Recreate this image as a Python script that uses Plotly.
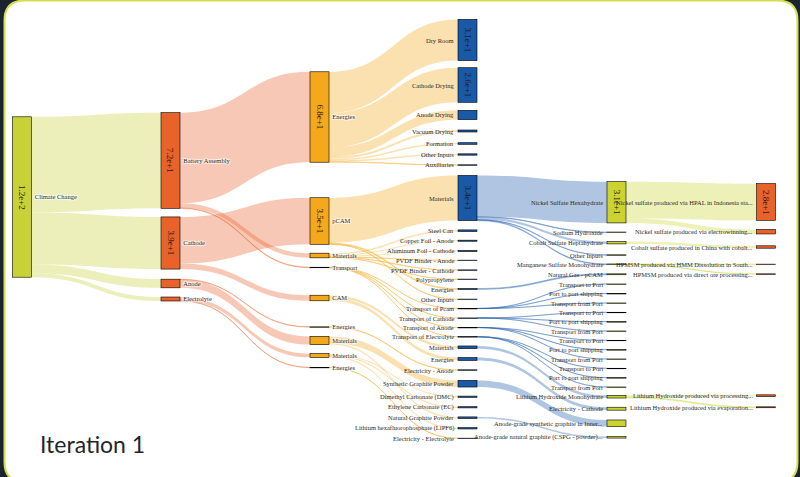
import plotly.graph_objects as go

# ---------------- data ----------------
node_ids = [
    "cc", "ba", "cat", "an", "el",
    "ba_en", "pcam", "ba_mat", "ba_tr", "cam", "an_en", "an_mat", "el_mat", "el_en",
    "dry", "cdry", "adry", "vac", "form", "oth1", "aux",
    "pcam_mat", "steel", "cu", "al", "pvdfa", "pvdfc", "pp", "pcam_en", "pcam_oth",
    "tr_pcam", "tr_cat", "tr_an", "tr_el",
    "cam_mat", "cam_en", "el_an", "sgp", "dmc", "ec", "ngp", "lipf6", "el_el",
    "nsh", "naoh", "csh", "oth4", "mn", "ng",
    "p_to", "p_sh", "p_from", "c_to", "c_sh", "c_from",
    "a_to", "a_sh", "a_from", "e_to", "e_sh", "e_from",
    "lioh", "el_cat", "agsg", "agng",
    "hpal", "ew", "co", "hmm", "dop", "liproc", "lievap",
]
node_labels = [
    "Climate Change", "Battery Assembly", "Cathode", "Anode", "Electrolyte",
    "Energies", "pCAM", "Materials", "Transport", "CAM", "Energies", "Materials", "Materials", "Energies",
    "Dry Room", "Cathode Drying", "Anode Drying", "Vacuum Drying", "Formation", "Other Inputs", "Auxiliaries",
    "Materials", "Steel Can", "Copper Foil - Anode", "Aluminum Foil - Cathode", "PVDF Binder - Anode",
    "PVDF Binder - Cathode", "Polypropylene", "Energies", "Other Inputs",
    "Transport of Pcam", "Transport of Cathode", "Transport of Anode", "Transport of Electrolyte",
    "Materials", "Energies", "Electricity - Anode", "Synthetic Graphite Powder",
    "Dimethyl Carbonate (DMC)", "Ethylene Carbonate (EC)", "Natural Graphite Powder",
    "Lithium hexafluorophosphate (LiPF6)", "Electricity - Electrolyte",
    "Nickel Sulfate Hexahydrate", "Sodium Hydroxide", "Cobalt Sulfate Heptahydrate", "Other Inputs",
    "Manganese Sulfate Monohydrate", "Natural Gas - pCAM",
    "Transport to Port", "Port to port shipping", "Transport from Port",
    "Transport to Port", "Port to port shipping", "Transport from Port",
    "Transport to Port", "Port to port shipping", "Transport from Port",
    "Transport to Port", "Port to port shipping", "Transport from Port",
    "Lithium Hydroxide Monohydrate", "Electricity - Cathode",
    "Anode-grade synthetic graphite in Inner...", "Anode-grade natural graphite (CSPG - powder)...",
    "Nickel sulfate produced via HPAL in Indonesia sta...", "Nickel sulfate produced via electrowinning...",
    "Cobalt sulfate produced in China with cobalt...", "HPMSM produced via HMM Dissolution in South...",
    "HPMSM produced via direct ore processing...", "Lithium Hydroxide produced via processing...",
    "Lithium Hydroxide produced via evaporation...",
]

link_sources = [
    "cc", "cc", "cc", "cc",
    "ba", "ba", "ba",
    "cat", "cat",
    "an", "an",
    "el", "el",
    "ba_en", "ba_en", "ba_en", "ba_en", "ba_en", "ba_en", "ba_en",
    "pcam", "pcam", "pcam",
    "ba_mat", "ba_mat", "ba_mat", "ba_mat", "ba_mat", "ba_mat",
    "ba_tr", "ba_tr", "ba_tr", "ba_tr",
    "cam", "cam",
    "an_en",
    "an_mat", "an_mat",
    "el_mat", "el_mat", "el_mat",
    "el_en",
    "pcam_mat", "pcam_mat", "pcam_mat", "pcam_mat", "pcam_mat",
    "pcam_en",
    "tr_pcam", "tr_pcam", "tr_pcam", "tr_cat", "tr_cat", "tr_cat",
    "tr_an", "tr_an", "tr_an", "tr_el", "tr_el", "tr_el",
    "cam_mat", "cam_en", "sgp", "ngp",
    "nsh", "nsh", "csh", "mn", "mn", "lioh", "lioh",
]
link_targets = [
    "ba", "cat", "an", "el",
    "ba_en", "ba_mat", "ba_tr",
    "pcam", "cam",
    "an_en", "an_mat",
    "el_mat", "el_en",
    "dry", "cdry", "adry", "vac", "form", "oth1", "aux",
    "pcam_mat", "pcam_en", "pcam_oth",
    "steel", "cu", "al", "pvdfa", "pvdfc", "pp",
    "tr_pcam", "tr_cat", "tr_an", "tr_el",
    "cam_mat", "cam_en",
    "el_an",
    "sgp", "ngp",
    "dmc", "ec", "lipf6",
    "el_el",
    "nsh", "naoh", "csh", "oth4", "mn",
    "ng",
    "p_to", "p_sh", "p_from", "c_to", "c_sh", "c_from",
    "a_to", "a_sh", "a_from", "e_to", "e_sh", "e_from",
    "lioh", "el_cat", "agsg", "agng",
    "hpal", "ew", "co", "hmm", "dop", "liproc", "lievap",
]
link_values = [
    71.9, 39.2, 6.5, 3.0,
    68.0, 3.5, 0.4,
    35.0, 4.2,
    0.3, 6.2,
    2.8, 0.2,
    31.0, 26.0, 7.0, 1.5, 1.2, 1.0, 0.3,
    34.0, 0.7, 0.3,
    1.2, 0.8, 0.8, 0.2, 0.2, 0.3,
    0.1, 0.1, 0.1, 0.1,
    2.0, 2.2,
    0.3,
    5.0, 1.2,
    0.9, 0.9, 1.0,
    0.2,
    31.0, 0.4, 1.8, 0.3, 0.5,
    0.7,
    0.033, 0.033, 0.034, 0.033, 0.033, 0.034,
    0.033, 0.033, 0.034, 0.033, 0.033, 0.034,
    2.0, 2.2, 5.0, 1.2,
    27.6, 3.4, 1.8, 0.25, 0.25, 1.3, 0.7,
]

# ---------------- layout / style ----------------
W, H = 800, 477
THICK = 19
node_column = ([0] + [1] * 4 + [2] * 9 + [3] * 29 + [4] * 22 + [5] * 7)
column_center_px = [22, 170.5, 319.5, 467.5, 616.5, 766]
node_center_y_px = [
    197,
    160.5, 243, 283.5, 299,
    117, 221, 255.5, 267.5, 298, 327, 340.5, 355.5, 367.5,
    40, 85, 115, 131, 143.5, 154.5, 165,
    198, 230.7, 240.7, 251, 260.3, 270, 279.3, 289, 299.3,
    308.5, 318, 327.5, 336.7,
    347.3, 359, 370, 383.7, 396.7, 407.3, 417.7, 428.3, 438.3,
    202.3, 232.3, 242.7, 255, 264.3, 274.3,
    284, 293.5, 303, 312.3, 321.7, 331, 340.3, 349.7, 359, 368.3, 377.7, 387,
    396.7, 408.7, 423.3, 437.3,
    202, 231.7, 247, 264.3, 274, 395.7, 407.3,
]
column_colors = [(200, 210, 54), (232, 98, 42), (244, 168, 28), (26, 88, 168), (204, 211, 48), (232, 98, 42)]
column_line_colors = ["#8f9620", "#a8431a", "#b77a0c", "#123e78", "#8d9220", "#a8431a"]
PX_PER_UNIT = 1.33
LABEL_FONT = dict(family="Liberation Serif", size=6.5, color="#2a2a2a")

idx = {n: i for i, n in enumerate(node_ids)}
src = [idx[s] for s in link_sources]
tgt = [idx[t] for t in link_targets]

inflow = [0.0] * len(node_ids)
outflow = [0.0] * len(node_ids)
for s, t, v in zip(src, tgt, link_values):
    outflow[s] += v
    inflow[t] += v
node_value = [max(a, b) for a, b in zip(inflow, outflow)]

col3 = [i for i, c in enumerate(node_column) if c == 3]
col3_total = sum(node_value[i] for i in col3)
node_pad = (H - PX_PER_UNIT * col3_total) / (len(col3) - 1)

def rgb(c):
    return "rgb(%d,%d,%d)" % c

def rgba(c, a):
    return "rgba(%d,%d,%d,%.2f)" % (c[0], c[1], c[2], a)

node_colors = [rgb(column_colors[c]) for c in node_column]
node_lines = [column_line_colors[c] for c in node_column]
link_colors = [rgba(column_colors[node_column[s]], 0.35) for s in src]
node_x = [column_center_px[c] / W for c in node_column]
node_y = [y / H for y in node_center_y_px]

# left-half columns keep the built-in labels; right-half labels sit left of the node
trace_labels = [lab if c <= 2 else "" for lab, c in zip(node_labels, node_column)]

fig = go.Figure(go.Sankey(
    arrangement="fixed",
    domain=dict(x=[0, 1], y=[0, 1]),
    node=dict(
        label=trace_labels,
        x=node_x,
        y=node_y,
        pad=node_pad,
        thickness=THICK,
        align="left",
        color=node_colors,
        line=dict(color=node_lines, width=0.6),
        hoverinfo="none",
    ),
    link=dict(source=src, target=tgt, value=link_values, color=link_colors, hoverinfo="none"),
    textfont=LABEL_FONT,
))

def fmt(v):
    m, e = ("%.1e" % v).split("e")
    e = int(e)
    return "%se%s%d" % (m, "+" if e >= 0 else "-", abs(e))

annotations = []
for i, v in enumerate(node_value):
    if v * PX_PER_UNIT > 25:
        annotations.append(dict(
            x=node_x[i], y=1 - node_y[i], xref="paper", yref="paper",
            text=fmt(v), showarrow=False, textangle=90,
            font=dict(family="Liberation Serif", size=9, color="#1a1a1a"),
            xanchor="center", yanchor="middle",
        ))
    if node_column[i] >= 3:
        annotations.append(dict(
            x=node_x[i] - (THICK / 2 + 3) / W, y=1 - node_y[i], xref="paper", yref="paper",
            text=node_labels[i], showarrow=False, xanchor="right", yanchor="middle",
            font=LABEL_FONT, borderpad=0,
        ))

annotations.append(dict(
    x=38 / W, y=1 - 444 / H, xref="paper", yref="paper", text="Iteration 1",
    showarrow=False, xanchor="left", yanchor="middle",
    font=dict(family="Lato", size=23, color="#1f2530"),
))

# rounded card frame
L, R, T, B, r = 4.5, 797.5, 0.5, 482, 20
def px(x, y):
    return "%.5f,%.5f" % (x / W, 1 - y / H)
path = ("M " + px(L, T + r) + " Q " + px(L, T) + " " + px(L + r, T) +
        " L " + px(R - r, T) + " Q " + px(R, T) + " " + px(R, T + r) +
        " L " + px(R, B - r) + " Q " + px(R, B) + " " + px(R - r, B) +
        " L " + px(L + r, B) + " Q " + px(L, B) + " " + px(L, B - r) + " Z")

fig.update_layout(
    width=W, height=H,
    margin=dict(l=0, r=0, t=0, b=0),
    paper_bgcolor="#1c2330",
    shapes=[dict(type="path", xref="paper", yref="paper", path=path,
                 fillcolor="white", line=dict(color="#d3e04b", width=2), layer="below")],
    annotations=annotations,
)

fig.write_html(
    "out.html",
    config={"displayModeBar": False},
    post_script="document.body.style.margin='0';document.body.style.overflow='hidden';",
)
